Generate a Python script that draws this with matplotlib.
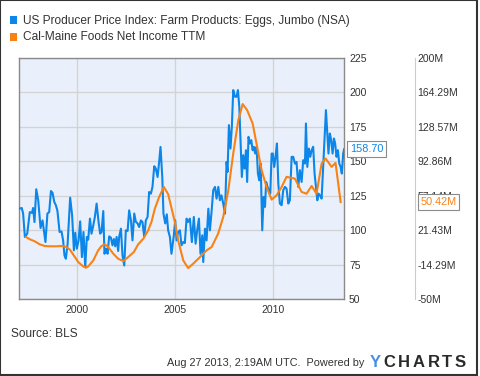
import numpy as np
import matplotlib
matplotlib.use("Agg")
import matplotlib.pyplot as plt
from matplotlib.patches import Rectangle

plt.rcParams['font.family'] = ['Liberation Sans', 'DejaVu Sans']

# PPI eggs, jumbo (decimal year, index value)
egg_years = [
    1997.07, 1997.17, 1997.24, 1997.33, 1997.45, 1997.58, 1997.69, 1997.75, 1997.82, 1997.91,
    1998.01, 1998.13, 1998.23, 1998.38, 1998.48, 1998.57, 1998.66, 1998.74, 1998.83, 1998.91,
    1998.99, 1999.10, 1999.20, 1999.28, 1999.35, 1999.42, 1999.51, 1999.64, 1999.74, 1999.83,
    1999.90, 1999.98, 2000.07, 2000.15, 2000.24, 2000.32, 2000.41, 2000.49, 2000.56, 2000.65,
    2000.73, 2000.82, 2000.90, 2000.99, 2001.09, 2001.17, 2001.24, 2001.33, 2001.39, 2001.48,
    2001.55, 2001.63, 2001.72, 2001.80, 2001.87, 2001.94, 2002.01, 2002.09, 2002.14, 2002.23,
    2002.31, 2002.40, 2002.48, 2002.57, 2002.65, 2002.74, 2002.82, 2002.91, 2002.99, 2003.08,
    2003.16, 2003.25, 2003.33, 2003.42, 2003.50, 2003.59, 2003.67, 2003.76, 2003.84, 2003.93,
    2004.01, 2004.10, 2004.18, 2004.25, 2004.34, 2004.40, 2004.49, 2004.57, 2004.64, 2004.73,
    2004.81, 2004.93, 2005.00, 2005.07, 2005.15, 2005.24, 2005.32, 2005.41, 2005.49, 2005.58,
    2005.66, 2005.75, 2005.85, 2005.95, 2006.04, 2006.12, 2006.21, 2006.29, 2006.38, 2006.43,
    2006.52, 2006.60, 2006.69, 2006.77, 2006.86, 2006.94, 2007.03, 2007.11, 2007.20, 2007.28,
    2007.36, 2007.45, 2007.54, 2007.62, 2007.67, 2007.74, 2007.82, 2007.89, 2007.96, 2008.05,
    2008.13, 2008.20, 2008.27, 2008.33, 2008.40, 2008.47, 2008.54, 2008.61, 2008.67, 2008.74,
    2008.81, 2008.88, 2008.95, 2009.01, 2009.08, 2009.15, 2009.22, 2009.29, 2009.36, 2009.44,
    2009.51, 2009.58, 2009.64, 2009.71, 2009.78, 2009.85, 2009.92, 2009.98, 2010.05, 2010.12,
    2010.19, 2010.26, 2010.34, 2010.43, 2010.51, 2010.60, 2010.68, 2010.77, 2010.85, 2010.94,
    2011.02, 2011.11, 2011.19, 2011.28, 2011.36, 2011.45, 2011.53, 2011.62, 2011.67, 2011.74,
    2011.82, 2011.89, 2011.96, 2012.04, 2012.11, 2012.18, 2012.25, 2012.31, 2012.38, 2012.47,
    2012.55, 2012.62, 2012.69, 2012.76, 2012.82, 2012.89, 2012.96, 2013.03, 2013.10, 2013.16,
    2013.23, 2013.30, 2013.37, 2013.44, 2013.50, 2013.57, 2013.62,
]
egg_ppi = [
    115.6, 116.0, 112.0, 95.0, 97.4, 113.0, 112.5, 116.0, 105.8, 129.6,
    121.6, 101.5, 107.0, 91.3, 112.0, 113.0, 128.3, 127.0, 120.4, 118.0,
    114.0, 98.6, 99.0, 92.5, 81.6, 79.2, 90.0, 123.5, 110.7, 85.3,
    98.1, 86.5, 92.5, 106.3, 80.4, 98.6, 73.1, 95.0, 93.0, 108.3,
    97.4, 103.4, 109.5, 119.2, 105.8, 97.4, 98.6, 113.8, 82.8, 86.5,
    82.8, 95.4, 94.5, 88.9, 93.5, 88.2, 95.0, 84.8, 95.0, 101.0,
    81.6, 74.3, 99.8, 99.3, 114.3, 107.0, 92.5, 112.0, 106.0, 104.8,
    102.2, 107.0, 105.8, 95.0, 107.0, 109.5, 127.6, 126.4, 131.3, 146.3,
    144.6, 138.5, 149.4, 160.3, 138.5, 112.0, 104.8, 111.4, 99.8, 94.9,
    82.8, 96.2, 107.1, 92.5, 98.6, 99.8, 88.9, 91.3, 90.6, 108.3,
    105.9, 108.3, 91.3, 109.5, 90.1, 99.8, 108.3, 82.8, 96.2, 76.8,
    101.0, 92.5, 115.5, 99.8, 114.3, 128.9, 131.3, 122.8, 131.3, 121.6,
    125.2, 119.2, 111.9, 149.4, 142.2, 176.1, 159.1, 174.9, 201.5, 196.7,
    196.7, 201.5, 189.4, 165.2, 138.5, 154.3, 144.6, 157.9, 134.9, 167.6,
    162.8, 165.2, 157.9, 160.4, 155.5, 160.4, 141.0, 136.1, 148.2, 99.8,
    124.0, 116.8, 134.9, 131.3, 128.9, 126.4, 155.5, 155.5, 145.8, 153.1,
    162.8, 133.7, 119.2, 118.0, 128.9, 131.3, 130.1, 119.2, 121.6, 153.1,
    153.1, 148.2, 149.4, 131.3, 143.4, 134.9, 150.7, 148.2, 177.3, 145.8,
    159.1, 153.1, 157.9, 160.4, 141.0, 131.3, 121.6, 126.4, 125.2, 122.8,
    145.8, 165.2, 187.0, 170.0, 155.5, 170.0, 165.2, 155.5, 166.4, 162.8,
    153.1, 157.9, 148.2, 145.8, 141.0, 155.5, 158.7,
]

# Cal-Maine net income TTM (decimal year, millions USD)
cal_years = [
    1997.38, 1997.58, 1997.84, 1998.09, 1998.35, 1998.60, 1998.94, 1999.20, 1999.45, 1999.63,
    1999.80, 2000.05, 2000.31, 2000.44, 2000.56, 2000.82, 2001.07, 2001.24, 2001.41, 2001.58,
    2001.84, 2002.09, 2002.35, 2002.60, 2002.89, 2003.11, 2003.37, 2003.62, 2003.79, 2003.96,
    2004.18, 2004.42, 2004.64, 2004.98, 2005.15, 2005.41, 2005.66, 2005.92, 2006.26, 2006.60,
    2006.86, 2007.19, 2007.45, 2007.71, 2007.96, 2008.22, 2008.44, 2008.67, 2008.95, 2009.18,
    2009.41, 2009.66, 2009.92, 2010.17, 2010.43, 2010.68, 2011.11, 2011.45, 2011.70, 2011.96,
    2012.21, 2012.47, 2012.67, 2012.98, 2013.18, 2013.44,
]
cal_income = [
    14.3, 11.9, 9.7, 6.6, 4.9, 4.6, 4.6, 4.9, 3.9, 1.1,
    -4.1, -11.7, -16.3, -17.6, -16.3, -10.0, 0.4, 4.9, 6.6, 3.9,
    -3.1, -8.3, -10.7, -6.6, -1.3, 6.6, 12.4, 21.1, 29.9, 43.6,
    55.7, 66.1, 58.6, 29.9, 10.7, -10.0, -18.0, -13.4, -6.6, 0.4,
    3.9, 17.7, 35.0, 62.7, 100.7, 135.3, 152.0, 145.7, 131.9, 107.7,
    83.4, 66.1, 53.0, 57.4, 66.1, 76.6, 74.7, 60.9, 59.1, 67.1,
    59.1, 90.3, 95.6, 86.9, 91.0, 50.42,
]

left_ticks = [50, 75, 100, 125, 150, 175, 200, 225]
right_ticks = [-50, -14.29, 21.43, 57.14, 92.86, 128.57, 164.29, 200]
right_labels = ['-50M', '-14.29M', '21.43M', '57.14M', '92.86M', '128.57M', '164.29M', '200M']
year_ticks = [2000, 2005, 2010]

blue = '#0c86e8'
orange = '#f98215'
txt = '#333333'

fig = plt.figure(figsize=(4.8, 3.76), dpi=100)
ax = fig.add_axes([0.040, 0.2048, 0.677, 0.6417])
ax.set_facecolor('#eaf0fb')
ax.plot(egg_years, egg_ppi, color=blue, lw=1.5, zorder=3)
ax.set_xlim(1997.04, 2013.62)
ax.set_ylim(50, 225)
ax.set_yticks(left_ticks)
ax.set_xticks(year_ticks)
ax.grid(color='#d3d3d3', lw=1)
ax.set_axisbelow(True)
for s in ax.spines.values():
    s.set_color('#8a8a8a')
    s.set_linewidth(1)

ax2 = ax.twinx()
ax2.plot(cal_years, cal_income, color=orange, lw=1.5)
ax2.set_ylim(-50, 200)
ax2.set_yticks(right_ticks)
ax2.set_yticklabels(right_labels)
ax2.tick_params(axis='y', length=0, labelsize=7.5, labelcolor=txt, pad=2)
for k in ['left', 'top', 'bottom']:
    ax2.spines[k].set_visible(False)
ax2.spines['right'].set_position(('axes', 1.2175))
ax2.spines['right'].set_color('#cccccc')

# twinx moves the main ticks to the left, so put them back on the right
ax.yaxis.set_ticks_position('right')
ax.yaxis.set_label_position('right')
ax.tick_params(axis='both', length=0, labelsize=7.5, labelcolor=txt)
ax.tick_params(axis='y', pad=3.5)
ax.tick_params(axis='x', pad=4)

# last value flags
ax.annotate(f'{egg_ppi[-1]:.2f}', xy=(1, egg_ppi[-1]), xycoords=('axes fraction', 'data'),
            xytext=(4, 0), textcoords='offset points', ha='left', va='center',
            color=blue, fontsize=7.8, annotation_clip=False, zorder=10,
            bbox=dict(boxstyle='square,pad=0.25', fc='white', ec='#8a8a8a', lw=0.8))
ax2.annotate(f'{cal_income[-1]:.2f}M', xy=(1.2175, cal_income[-1]), xycoords=('axes fraction', 'data'),
             xytext=(4, 0), textcoords='offset points', ha='left', va='center',
             color=orange, fontsize=7.8, annotation_clip=False, zorder=10,
             bbox=dict(boxstyle='square,pad=0.25', fc='white', ec='#8a8a8a', lw=0.8))

# legend
fig.patches.append(Rectangle((0.0208, 0.9354), 0.0156, 0.0213, transform=fig.transFigure,
                             fc=blue, ec='none'))
fig.patches.append(Rectangle((0.0208, 0.8900), 0.0156, 0.0213, transform=fig.transFigure,
                             fc=orange, ec='none'))
fig.text(0.0473, 0.945, 'US Producer Price Index: Farm Products: Eggs, Jumbo (NSA)',
         fontsize=8.6, color=txt, va='center')
fig.text(0.0473, 0.9008, 'Cal-Maine Foods Net Income TTM', fontsize=8.6, color=txt, va='center')

# footer
fig.text(0.0223, 0.1109, 'Source: BLS', fontsize=8.6, color=txt, va='center')
fig.text(0.760, 0.0354, 'Aug 27 2013, 2:19AM UTC.  Powered by', fontsize=7.8, color=txt,
         va='center', ha='right')
fig.canvas.draw()
r = fig.canvas.get_renderer()
x = 370
for i, ch in enumerate('YCHARTS'):
    t = fig.text(x / 480, 0.0354, ch, fontsize=12, fontweight='bold',
                 color='#4a90e2' if i == 0 else '#2a2a2a', va='center')
    x += t.get_window_extent(r).width + 2.6

fig.patches.append(Rectangle((0.001, 0.003), 0.9937, 0.996, transform=fig.transFigure,
                             fill=False, ec='#333333', lw=1.5))

fig.savefig('out.png', dpi=100)
